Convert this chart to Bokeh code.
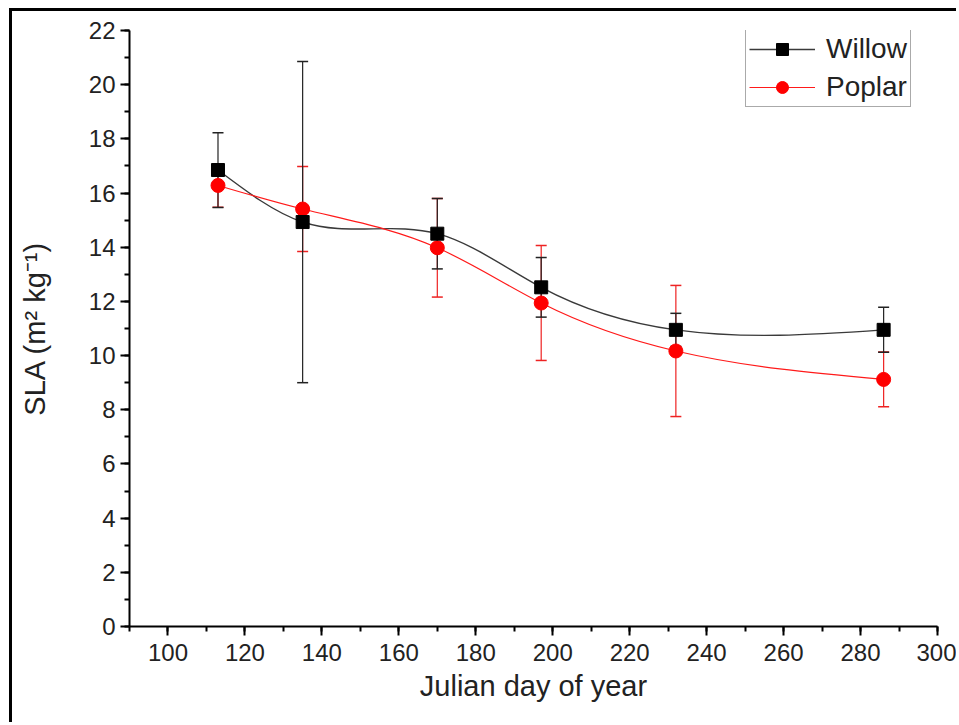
import numpy as np
from bokeh.plotting import figure
from bokeh.models import (ColumnDataSource, Whisker, TeeHead, SingleIntervalTicker,
                          Legend, LegendItem)
from bokeh.embed import file_html
from bokeh.resources import INLINE

# ---- data ----
day = [113, 135, 170, 197, 232, 286]
willow = [16.85, 14.93, 14.50, 12.52, 10.95, 10.95]
willow_sd = [1.38, 5.93, 1.30, 1.10, 0.61, 0.83]
poplar = [16.28, 15.41, 13.98, 11.94, 10.17, 9.12]
poplar_sd = [0.80, 1.57, 1.82, 2.12, 2.42, 1.01]

FONT = "Liberation Sans"
TXT = "#222222"


def spline_bezier(x, y):
    """Natural cubic spline through the points, expressed as cubic Bezier segments."""
    x = np.asarray(x, float)
    y = np.asarray(y, float)
    n = len(x)
    h = np.diff(x)
    A = np.zeros((n, n))
    b = np.zeros(n)
    A[0, 0] = 1
    A[-1, -1] = 1
    for i in range(1, n - 1):
        A[i, i - 1] = h[i - 1]
        A[i, i] = 2 * (h[i - 1] + h[i])
        A[i, i + 1] = h[i]
        b[i] = 6 * ((y[i + 1] - y[i]) / h[i] - (y[i] - y[i - 1]) / h[i - 1])
    M = np.linalg.solve(A, b)
    d = np.diff(y) / h
    m0 = d - h * (2 * M[:-1] + M[1:]) / 6
    m1 = d + h * (M[:-1] + 2 * M[1:]) / 6
    return dict(x0=x[:-1], y0=y[:-1], x1=x[1:], y1=y[1:],
                cx0=x[:-1] + h / 3, cy0=y[:-1] + m0 * h / 3,
                cx1=x[1:] - h / 3, cy1=y[1:] - m1 * h / 3)


p = figure(width=947, height=714, x_range=(90, 300), y_range=(0, 22),
           output_backend="svg", toolbar_location=None,
           min_border_left=117, min_border_right=22, min_border_top=19,
           min_border_bottom=99)
p.styles = {"margin-left": "9px", "margin-top": "8px",
            "border-left": "3px solid black", "border-top": "3px solid black"}
p.outline_line_color = None
p.xgrid.visible = False
p.ygrid.visible = False
p.background_fill_color = "white"
p.border_fill_color = "white"

for ax, ticker in ((p.xaxis[0], SingleIntervalTicker(interval=20, num_minor_ticks=2)),
                   (p.yaxis[0], SingleIntervalTicker(interval=2, num_minor_ticks=2))):
    ax.ticker = ticker
    ax.axis_line_width = 2
    ax.axis_line_color = "black"
    ax.major_tick_line_width = 2
    ax.minor_tick_line_width = 2
    ax.major_tick_line_color = "black"
    ax.minor_tick_line_color = "black"
    ax.major_tick_in = 0
    ax.major_tick_out = 9
    ax.minor_tick_in = 0
    ax.minor_tick_out = 5
    ax.major_label_text_font = FONT
    ax.major_label_text_font_size = "24px"
    ax.major_label_text_color = TXT
    ax.axis_label_text_font = FONT
    ax.axis_label_text_font_size = "29px"
    ax.axis_label_text_font_style = "normal"
    ax.axis_label_text_color = TXT

p.xaxis.axis_label = "Julian day of year"
p.yaxis.axis_label = "SLA (m\u00b2 kg\u207b\u00b9)"
p.xaxis.major_label_standoff = 8
p.yaxis.major_label_standoff = 5
p.xaxis.axis_label_standoff = 6
p.yaxis.axis_label_standoff = 35

# error bars
w_src = ColumnDataSource(dict(x=day, upper=[m + s for m, s in zip(willow, willow_sd)],
                              lower=[m - s for m, s in zip(willow, willow_sd)]))
p_src = ColumnDataSource(dict(x=day, upper=[m + s for m, s in zip(poplar, poplar_sd)],
                              lower=[m - s for m, s in zip(poplar, poplar_sd)]))
for src, col in ((p_src, "#ee2222"), (w_src, "#222222")):
    wh = Whisker(source=src, base="x", upper="upper", lower="lower",
                 line_color=col, line_width=1.2, level="underlay",
                 upper_head=TeeHead(size=11, line_color=col, line_width=1.5),
                 lower_head=TeeHead(size=11, line_color=col, line_width=1.5))
    p.add_layout(wh)

# spline curves
bz_w = p.bezier(source=ColumnDataSource(spline_bezier(day, willow)),
                x0="x0", y0="y0", x1="x1", y1="y1", cx0="cx0", cy0="cy0",
                cx1="cx1", cy1="cy1", line_color="#3a3a3a", line_width=1.4)
bz_p = p.bezier(source=ColumnDataSource(spline_bezier(day, poplar)),
                x0="x0", y0="y0", x1="x1", y1="y1", cx0="cx0", cy0="cy0",
                cx1="cx1", cy1="cy1", line_color="#ff1a1a", line_width=1.2)

sc_p = p.scatter(day, poplar, marker="circle", size=14, fill_color="#ff0000",
                 line_color="#ff0000")
sc_w = p.scatter(day, willow, marker="square", size=13, fill_color="black",
                 line_color="black")

legend = Legend(items=[LegendItem(label="Willow", renderers=[bz_w, sc_w]),
                       LegendItem(label="Poplar", renderers=[bz_p, sc_p])],
                location=(616, 519), orientation="vertical")
legend.label_text_font = FONT
legend.label_text_font_size = "28px"
legend.label_text_color = TXT
legend.glyph_width = 66
legend.glyph_height = 30
legend.label_height = 30
legend.label_standoff = 11
legend.spacing = 6
legend.padding = 3
legend.margin = 0
legend.border_line_color = "#555555"
legend.border_line_width = 1
legend.background_fill_alpha = 1
p.add_layout(legend, "center")

open("out.html", "w").write(file_html(p, INLINE))
